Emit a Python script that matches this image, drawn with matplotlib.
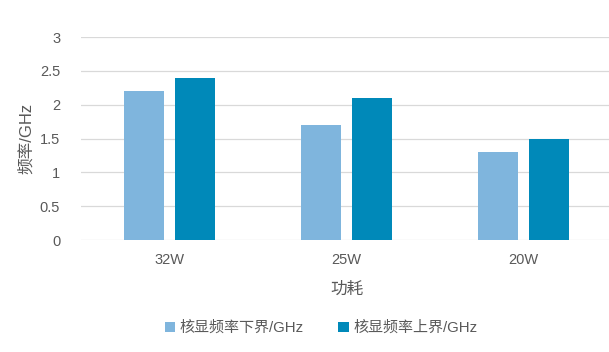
import matplotlib
matplotlib.use("Agg")
import matplotlib.pyplot as plt
import numpy as np

plt.rcParams['font.family'] = ['Liberation Sans', 'Noto Sans CJK SC', 'DejaVu Sans']

# Datos
categorias = ["32W", "25W", "20W"]
limite_inferior = [2.2, 1.7, 1.3]
limite_superior = [2.4, 2.1, 1.5]
etiquetas = ["核显频率下界/GHz", "核显频率上界/GHz"]

color_texto = "#595959"
fig = plt.figure(figsize=(6.09, 3.52), dpi=100)
ax = fig.add_axes([81 / 609, 112 / 352, 531 / 609, 203 / 352])

x = np.arange(len(categorias))
ancho = 0.226
desp = 0.144
ax.bar(x - desp, limite_inferior, ancho, color="#7FB5DD", label=etiquetas[0], zorder=3)
ax.bar(x + desp, limite_superior, ancho, color="#0089B9", label=etiquetas[1], zorder=3)

ax.set_xlim(-0.5, 2.5)
ax.set_ylim(0, 3)
ax.set_yticks([0, 0.5, 1, 1.5, 2, 2.5, 3])
ax.set_yticklabels(["0", "0.5", "1", "1.5", "2", "2.5", "3"])
ax.set_xticks(x)
ax.set_xticklabels(categorias)
ax.tick_params(length=0, labelsize=10.5, colors=color_texto, pad=15)
ax.tick_params(axis="x", pad=9)
ax.grid(axis="y", color="#D9D9D9", linewidth=0.9, zorder=0)
for s in ax.spines.values():
    s.set_visible(False)

ax.set_ylabel("频率/GHz", fontsize=12, color=color_texto, labelpad=4)
ax.set_xlabel("功耗", fontsize=12, color=color_texto, labelpad=11)

fig.legend(loc="center", bbox_to_anchor=(0.527, 1 - 328 / 352), ncol=2,
           frameon=False, fontsize=10.8, handlelength=0.7, handleheight=0.7,
           handletextpad=0.3, columnspacing=2.3, labelcolor=color_texto)

fig.savefig("out.png", dpi=100)
